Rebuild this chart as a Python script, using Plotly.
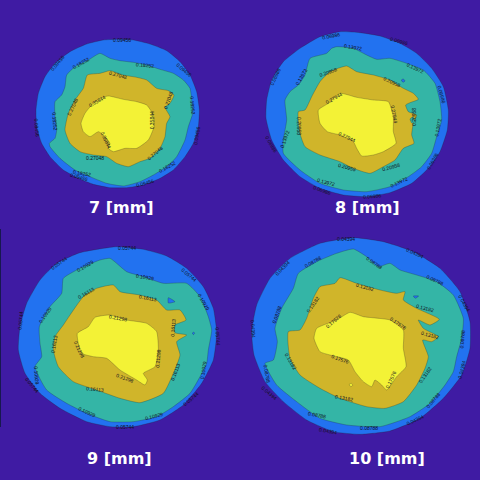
import plotly.graph_objects as go

# Outlines; each panel uses its own axis units.
P7_LEVEL1 = [(350,58),(400,60),(450,72),(500,92),(540,125),(570,165),(590,215),(598,270),(595,320),(580,370),(555,410),(520,450),(480,475),(430,495),(380,503),(330,503),(280,493),(235,475),(190,450),(150,410),(125,370),(110,320),(108,270),(115,220),(135,170),(165,130),(210,95),(260,72),(310,60)]
P7_LEVEL2 = [(300,100),(330,115),(360,122),(400,127),(440,135),(480,148),(520,160),(550,180),(570,205),(575,240),(578,280),(565,320),(555,360),(530,410),(500,440),(460,465),(420,485),(370,498),(320,490),(270,470),(225,450),(180,415),(150,380),(148,370),(165,355),(170,330),(165,290),(165,245),(185,225),(195,200),(200,165),(225,140),(265,120)]
P7_LEVEL3 = [(330,152),(370,165),(410,172),(440,180),(470,205),(505,212),(522,225),(510,250),(495,262),(510,290),(500,310),(495,350),(480,385),(450,415),(420,425),(385,440),(350,430),(320,410),(280,405),(240,395),(210,370),(195,330),(205,280),(225,240),(250,205),(262,165),(300,160)]
P7_LEVEL4 = [(325,228),(370,238),(410,245),(440,255),(460,285),(462,320),(445,360),(410,385),(375,385),(340,395),(325,385),(330,370),(310,345),(295,335),(270,350),(250,335),(243,310),(255,280),(275,255),(300,235)]

P8_LEVEL1 = [(300,35),(360,38),(420,48),(480,70),(530,100),(575,145),(610,200),(625,270),(622,330),(600,395),(565,445),(515,490),(450,518),(380,530),(310,525),(240,505),(180,470),(130,420),(95,360),(78,295),(80,240),(95,180),(130,125),(180,85),(240,50)]
P8_LEVEL2 = [(290,80),(340,85),(380,105),(410,118),(450,115),(500,130),(550,150),(585,190),(600,245),(605,300),(590,350),(575,400),(545,440),(505,470),(450,500),(380,515),(310,510),(240,490),(180,450),(130,400),(130,360),(140,300),(135,240),(150,215),(175,195),(195,165),(210,115),(260,100),(275,85)]
P8_LEVEL3 = [(320,138),(350,155),(400,165),(450,180),(490,205),(520,220),(535,238),(510,248),(497,255),(505,275),(530,285),(520,310),(515,345),(522,370),(490,385),(465,420),(430,440),(390,460),(340,445),(300,425),(240,405),(195,380),(180,340),(175,275),(195,270),(215,230),(240,185),(270,155)]
P8_LEVEL4 = [(300,220),(350,232),(400,240),(445,245),(460,290),(460,335),(468,370),(430,395),(400,405),(365,408),(350,385),(340,365),(300,345),(262,335),(240,310),(235,270),(265,250)]
P8_HOLE_TEAL = [(510,297),(520,290),(524,305),(516,310)]
P8_HOLE_BLUE = [(484,180),(490,177),(495,183),(489,187)]

P9_LEVEL1 = [(350,50),(430,58),(500,78),(560,115),(610,170),(640,235),(650,310),(640,390),(605,460),(550,525),(480,570),(400,590),(330,590),(260,575),(180,535),(120,490),(75,430),(55,360),(60,290),(80,220),(120,150),(170,100),(240,68)]
P9_LEVEL2 = [(330,85),(350,100),(380,125),(430,140),(490,160),(560,160),(600,200),(625,260),(635,300),(625,360),(620,400),(600,440),(570,490),(520,530),(470,560),(400,575),(330,575),(260,550),(200,520),(140,480),(105,410),(125,380),(120,340),(118,290),(150,230),(185,190),(190,145),(240,115),(300,90)]
P9_LEVEL3 = [(340,165),(360,185),(420,195),(470,210),(500,240),(540,240),(558,270),(525,285),(525,308),(560,315),(530,335),(540,375),(520,430),(490,490),(420,518),(360,505),(290,480),(220,455),(175,410),(160,360),(165,320),(190,285),(210,255),(250,200),(290,175)]
P9_LEVEL4 = [(330,255),(380,270),(440,280),(470,305),(475,360),(465,410),(430,430),(442,450),(435,465),(410,450),(360,420),(320,385),(280,380),(245,370),(235,340),(232,310),(265,290),(285,262)]
P9_HOLE_A = [(505,203),(525,215),(505,219)]
P9_HOLE_B = [(577,309),(581,306),(584,310),(580,314)]

P10_LEVEL1 = [(340,38),(430,50),(520,80),(600,130),(660,200),(690,290),(690,370),(665,450),(610,520),(540,580),(450,618),(360,628),(280,620),(200,585),(130,530),(75,470),(42,390),(35,320),(50,240),(90,160),(150,100),(240,55)]
P10_LEVEL2 = [(340,72),(380,95),(415,125),(450,115),(480,135),(530,150),(590,170),(640,210),(670,280),(665,340),(650,395),(640,440),(615,480),(570,535),(510,575),(420,605),(320,600),(240,580),(170,530),(110,480),(75,415),(100,405),(112,350),(105,310),(125,250),(160,190),(175,145),(230,110),(290,85)]
P10_LEVEL3 = [(300,158),(350,175),(420,195),(470,205),(495,200),(490,225),(530,250),(598,283),(570,300),(535,285),(550,310),(595,335),(575,350),(548,345),(565,395),(555,430),(530,480),(490,530),(435,550),(380,545),(300,520),(240,490),(180,450),(150,400),(145,320),(180,315),(200,280),(220,220),(240,185),(285,175)]
P10_LEVEL4 = [(330,262),(370,275),(450,285),(490,315),(490,370),(498,425),(470,455),(440,495),(425,480),(405,465),(395,485),(370,470),(345,440),(325,405),(270,390),(240,380),(222,340),(230,310),(290,285)]
P10_HOLE_BLUE = [(520,213),(536,213),(526,220)]
P10_DOT = [(328,478),(334,475),(338,481),(332,485)]

# Contour labels: text, x, y, angle
P7_LABELS = [("0.09456",365,60,0),("0.09456",172,128,-50),("0.09456",110,322,85),("0.09456",238,470,15),("0.09456",435,490,-15),("0.09456",553,150,40),("0.09456",590,348,-80),
  ("0.18252",243,130,-30),("0.18252",435,135,5),("0.18252",578,255,85),("0.18252",166,305,85),("0.18252",245,458,10),("0.18252",500,440,-30),
  ("0.27048",355,165,15),("0.27048",218,262,-65),("0.27048",505,240,-70),("0.27048",285,413,0),("0.27048",465,400,-40),
  ("0.35844",292,243,-30),("0.35844",457,300,-90),("0.35844",318,360,65)]
P8_LABELS = [("0.06986",272,47,-10),("0.06986",478,62,15),("0.06986",105,170,-65),("0.06986",605,222,75),("0.06986",93,373,60),("0.06986",245,510,20),("0.06986",395,528,-5),("0.06986",577,422,-60),
  ("0.13972",338,80,10),("0.13972",525,145,25),("0.13972",183,170,-60),("0.13972",595,322,-80),("0.13972",135,358,-70),("0.13972",258,485,15),("0.13972",477,487,-25),
  ("0.20958",265,155,-20),("0.20958",457,185,25),("0.20958",177,318,90),("0.20958",320,440,15),("0.20958",453,442,-15),("0.20958",520,290,-90),
  ("0.27944",282,235,-30),("0.27944",462,283,80),("0.27944",322,350,25)]
P9_LABELS = [("0.05744",380,55,0),("0.05744",178,100,-35),("0.05744",60,272,-85),("0.05744",96,465,50),("0.05744",375,592,0),("0.05744",568,135,40),("0.05744",655,320,85),("0.05744",572,508,-40),
  ("0.10929",255,108,-30),("0.10929",435,140,10),("0.10929",135,255,-55),("0.10929",612,215,60),("0.10929",110,435,85),("0.10929",262,545,25),("0.10929",463,558,-15),("0.10929",610,420,-80),
  ("0.16113",258,188,-30),("0.16113",445,205,10),("0.16113",162,342,-80),("0.16113",520,292,-85),("0.16113",285,478,5),("0.16113",525,425,-70),
  ("0.21298",355,265,10),("0.21298",237,358,65),("0.21298",475,385,-85),("0.21298",375,443,20)]
P10_LABELS = [("0.04394",318,41,0),("0.04394",525,83,25),("0.04394",127,128,-45),("0.04394",40,312,85),("0.04394",672,235,60),("0.04394",88,505,40),("0.04394",265,618,10),("0.04394",525,585,-25),("0.04394",665,435,-75),
  ("0.08788",218,112,-30),("0.08788",403,115,35),("0.08788",585,165,25),("0.08788",110,270,-70),("0.08788",667,342,-85),("0.08788",80,445,80),("0.08788",232,570,10),("0.08788",388,608,0),("0.08788",580,525,-50),
  ("0.13182",375,185,15),("0.13182",220,238,-55),("0.13182",555,248,15),("0.13182",570,330,15),("0.13182",152,408,60),("0.13182",313,520,10),("0.13182",555,450,-55),
  ("0.17576",280,287,-40),("0.17576",473,295,35),("0.17576",300,403,20),("0.17576",452,465,-65)]

TITLES = ["7 [mm]", "8 [mm]", "9 [mm]", "10 [mm]"]
BG, BLUE, TEAL, GOLD, YELLOW = "#3f1ba3", "#2272f0", "#34b5a6", "#d0b52a", "#f3f236"

W = 480
panels = [
 dict(title=TITLES[0], box=(0,20,240,200), title_px=(121,207),
      regions=[(P7_LEVEL1,BLUE),(P7_LEVEL2,TEAL),(P7_LEVEL3,GOLD),(P7_LEVEL4,YELLOW)], labels=P7_LABELS),
 dict(title=TITLES[1], box=(240,20,240,200), title_px=(367,207),
      regions=[(P8_LEVEL1,BLUE),(P8_LEVEL2,TEAL),(P8_HOLE_BLUE,BLUE),(P8_LEVEL3,GOLD),(P8_HOLE_TEAL,TEAL),(P8_LEVEL4,YELLOW)], labels=P8_LABELS),
 dict(title=TITLES[2], box=(0,230,240,210), title_px=(119,458),
      regions=[(P9_LEVEL1,BLUE),(P9_LEVEL2,TEAL),(P9_HOLE_A,BLUE),(P9_HOLE_B,BLUE),(P9_LEVEL3,GOLD),(P9_LEVEL4,YELLOW)], labels=P9_LABELS),
 dict(title=TITLES[3], box=(240,225,240,215), title_px=(387,458),
      regions=[(P10_LEVEL1,BLUE),(P10_LEVEL2,TEAL),(P10_HOLE_BLUE,BLUE),(P10_LEVEL3,GOLD),(P10_DOT,YELLOW),(P10_LEVEL4,YELLOW)], labels=P10_LABELS),
]

fig = go.Figure()
layout = dict(
    width=W, height=W, margin=dict(l=0, r=0, t=0, b=0), autosize=False, showlegend=False,
    paper_bgcolor=BG, plot_bgcolor="rgba(0,0,0,0)",
)
annotations = []
for i, p in enumerate(panels, start=1):
    x0, y0, w, h = p["box"]
    sfx = "" if i == 1 else str(i)
    layout[f"xaxis{sfx}"] = dict(domain=[x0/W, (x0+w)/W], range=[0, w*3], visible=False, fixedrange=True, anchor=f"y{sfx}")
    layout[f"yaxis{sfx}"] = dict(domain=[1-(y0+h)/W, 1-y0/W], range=[h*3, 0], visible=False, fixedrange=True, anchor=f"x{sfx}")
    for pts, col in p["regions"]:
        xs = [a for a, b in pts] + [pts[0][0]]
        ys = [b for a, b in pts] + [pts[0][1]]
        fig.add_trace(go.Scatter(x=xs, y=ys, mode="lines", fill="toself", fillcolor=col,
                                 line=dict(color="rgba(30,30,30,0.5)", width=0.5, shape="spline", smoothing=0.5),
                                 hoverinfo="skip", xaxis=f"x{sfx}", yaxis=f"y{sfx}"))
    for t, lx, ly, ang in p["labels"]:
        annotations.append(dict(x=lx, y=ly, xref=f"x{sfx}", yref=f"y{sfx}", text=t, showarrow=False,
                                textangle=ang, font=dict(family="Liberation Sans", size=5, color="#101020")))
    annotations.append(dict(x=p["title_px"][0]/W, y=1-p["title_px"][1]/W, xref="paper", yref="paper", text=p["title"],
                            showarrow=False, xanchor="center", yanchor="middle",
                            font=dict(family="DejaVu Sans", size=16, color="white", weight="bold")))

layout["annotations"] = annotations
layout["shapes"] = [dict(type="line", xref="paper", yref="paper", x0=0.5/W, x1=0.5/W, y0=1-229/W, y1=1-427/W,
                         line=dict(color="#181850", width=1))]
fig.update_layout(**layout)
fig.write_html("out.html", config={"displayModeBar": False},
               post_script="document.documentElement.style.margin='0';document.body.style.margin='0';document.body.style.overflow='hidden';document.body.style.background='#3f1ba3';")
